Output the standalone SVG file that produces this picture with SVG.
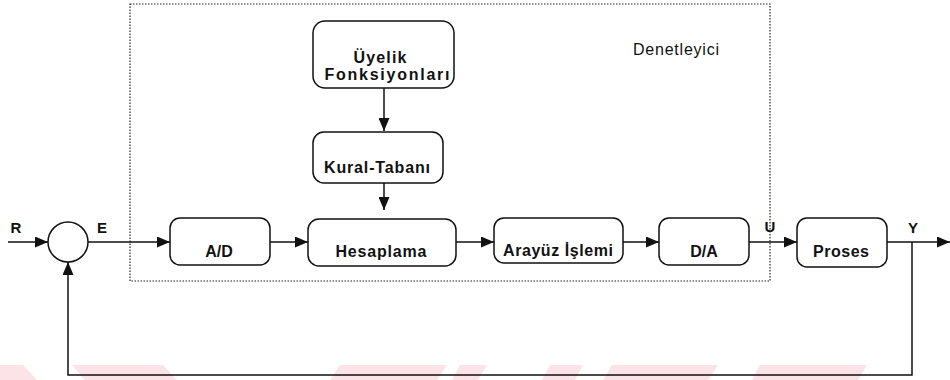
<svg xmlns="http://www.w3.org/2000/svg" width="950" height="380" viewBox="0 0 950 380">
<defs>
<style>
.box{fill:#fff;stroke:#111;stroke-width:1.5}
.lbl{font-family:"Liberation Sans",Arial,sans-serif;font-weight:bold;font-size:16px;fill:#111;text-anchor:middle}
.sig{font-family:"Liberation Sans",Arial,sans-serif;font-weight:bold;font-size:15px;fill:#111;text-anchor:middle}
.wire{fill:none;stroke:#111;stroke-width:1.5}
.wm{fill:#fce3e8}
</style>
<marker id="ah" markerUnits="userSpaceOnUse" markerWidth="13" markerHeight="11" refX="13" refY="5.5" orient="auto">
<path d="M0,0 L13,5.5 L0,11 z" fill="#111"/>
</marker>
</defs>
<rect width="950" height="380" fill="#fff"/>
<g id="watermark">
<polygon class="wm" points="0,365 23,365 37,380 0,380"/>
<polygon class="wm" points="72,365 163,365 177,380 85,380"/>
<polygon class="wm" points="340,365 447,365 437,380 330,380"/>
<polygon class="wm" points="460,365 487,365 478,380 452,380"/>
<polygon class="wm" points="550,365 583,365 575,380 542,380"/>
<polygon class="wm" points="612,365 718,365 708,380 603,380"/>
<polygon class="wm" points="760,365 867,365 858,380 752,380"/>
</g>
<g id="controller-boundary">
<rect x="130" y="4" width="640" height="277" fill="none" stroke="#222" stroke-width="1.2" stroke-dasharray="1.5 1.5"/>
<text x="676" y="55" font-family="'Liberation Sans',Arial,sans-serif" font-size="16" fill="#111" text-anchor="middle" textLength="86" lengthAdjust="spacing">Denetleyici</text>
</g>
<g id="connectors">
<line class="wire" x1="8" y1="242" x2="48" y2="242" marker-end="url(#ah)"/>
<line class="wire" x1="88" y1="242" x2="170" y2="242" marker-end="url(#ah)"/>
<line class="wire" x1="270" y1="242" x2="308" y2="242" marker-end="url(#ah)"/>
<line class="wire" x1="456" y1="242" x2="494" y2="242" marker-end="url(#ah)"/>
<line class="wire" x1="623" y1="242" x2="659" y2="242" marker-end="url(#ah)"/>
<line class="wire" x1="749" y1="242" x2="797" y2="242" marker-end="url(#ah)"/>
<line class="wire" x1="887" y1="242" x2="950" y2="242" marker-end="url(#ah)"/>
<line class="wire" x1="384" y1="88" x2="384" y2="131" marker-end="url(#ah)"/>
<line class="wire" x1="384" y1="183" x2="384" y2="210" marker-end="url(#ah)"/>
<polyline class="wire" points="912,242 912,375 68,375 68,262" marker-end="url(#ah)"/>
</g>
<g id="labels">
<text class="sig" x="16" y="233">R</text>
<text class="sig" x="102" y="233">E</text>
<text class="sig" x="770" y="232">U</text>
<text class="sig" x="913" y="233">Y</text>
</g>
<g id="sum">
<circle cx="68" cy="242" r="20" fill="#fff" stroke="#111" stroke-width="1.5"/>
</g>
<g id="uyelik">
<rect class="box" x="313" y="21" width="141" height="67" rx="12"/>
<text class="lbl" x="380" y="63" textLength="53" lengthAdjust="spacing">Üyelik</text>
<text class="lbl" x="387" y="80" textLength="125" lengthAdjust="spacing">Fonksiyonları</text>
</g>
<g id="kural">
<rect class="box" x="313" y="132" width="130" height="51" rx="11"/>
<text class="lbl" x="377" y="173" textLength="106" lengthAdjust="spacing">Kural-Tabanı</text>
</g>
<g id="ad">
<rect class="box" x="170" y="218" width="100" height="47" rx="10"/>
<text class="lbl" x="219" y="257">A/D</text>
</g>
<g id="hesaplama">
<rect class="box" x="308" y="219" width="148" height="47" rx="11"/>
<text class="lbl" x="381" y="257" textLength="91" lengthAdjust="spacing">Hesaplama</text>
</g>
<g id="arayuz">
<rect class="box" x="494" y="218" width="129" height="45" rx="10"/>
<text class="lbl" x="558" y="256" textLength="110" lengthAdjust="spacing">Arayüz İşlemi</text>
</g>
<g id="da">
<rect class="box" x="659" y="218" width="90" height="47" rx="10"/>
<text class="lbl" x="704" y="257">D/A</text>
</g>
<g id="proses">
<rect class="box" x="797" y="218" width="90" height="49" rx="10"/>
<text class="lbl" x="841" y="257" textLength="56" lengthAdjust="spacing">Proses</text>
</g>
</svg>
